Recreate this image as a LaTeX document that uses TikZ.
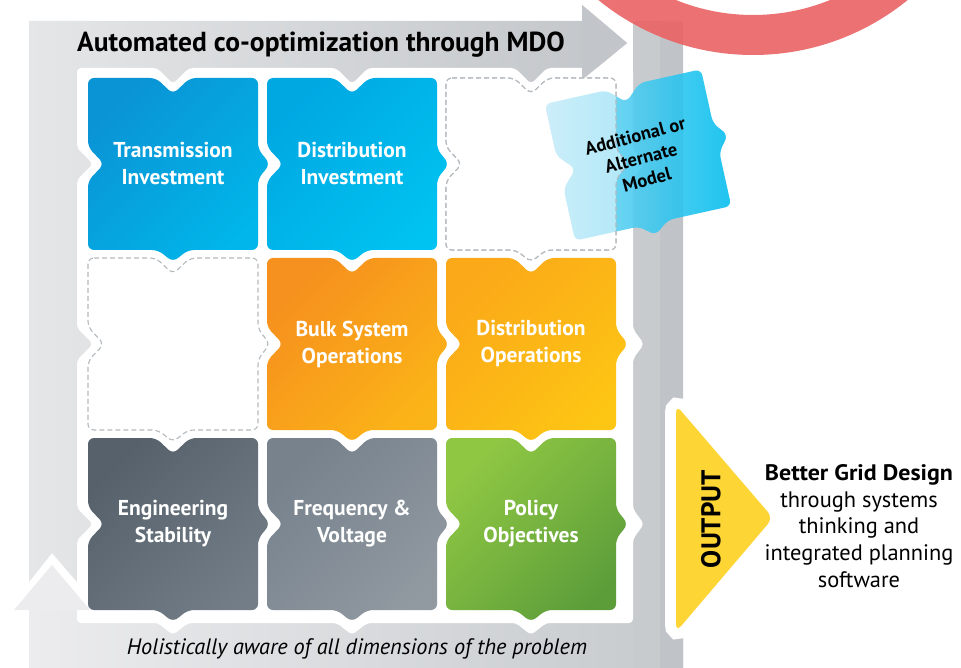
\documentclass[tikz,border=0pt]{standalone}
\usepackage{fontspec}
\setmainfont{PT Sans}
\usetikzlibrary{calc}
\definecolor{blueA}{HTML}{0A94D5}
\definecolor{blueB}{HTML}{00B6EA}
\definecolor{blueC}{HTML}{00A8E2}
\definecolor{blueD}{HTML}{00C3F1}
\definecolor{orA}{HTML}{F6901E}
\definecolor{orB}{HTML}{FBB417}
\definecolor{orC}{HTML}{FBA918}
\definecolor{orD}{HTML}{FDC514}
\definecolor{grA}{HTML}{56616C}
\definecolor{grB}{HTML}{727D88}
\definecolor{grC}{HTML}{77828D}
\definecolor{grD}{HTML}{9199A1}
\definecolor{gnA}{HTML}{8FC743}
\definecolor{gnB}{HTML}{5C9D3A}
\definecolor{yel}{HTML}{FDD535}
\definecolor{ringred}{HTML}{EA6264}
\definecolor{bandL}{HTML}{E4E6E7}
\definecolor{bandR}{HTML}{C2C5C9}
\definecolor{botL}{HTML}{ECECEE}
\definecolor{botR}{HTML}{C6CACD}
\definecolor{rbandA}{HTML}{C7CBCE}
\definecolor{rbandB}{HTML}{C0C4C8}
\definecolor{dashgray}{HTML}{B5BABF}
\definecolor{pieceL}{HTML}{8ED8F3}
\definecolor{pieceR}{HTML}{00BDEE}
\tikzset{
  puzzle/.style n args={4}{insert path={
   ({#1},{#2}) -- ({#1+#3/2-17},{#2}) -- ({#1+#3/2},{#2+16}) -- ({#1+#3/2+17},{#2}) -- ({#1+#3},{#2})
   -- ({#1+#3},{#2+#4/2-15}) -- ({#1+#3+12},{#2+#4/2}) -- ({#1+#3},{#2+#4/2+15}) -- ({#1+#3},{#2+#4})
   -- ({#1+#3/2+15},{#2+#4}) -- ({#1+#3/2},{#2+#4+12}) -- ({#1+#3/2-15},{#2+#4}) -- ({#1},{#2+#4})
   -- ({#1},{#2+#4/2+17}) -- ({#1+16},{#2+#4/2}) -- ({#1},{#2+#4/2-17}) -- cycle}},
  tilebase/.style={rounded corners=6pt},
  tiletext/.style={text=white, align=center, font=\bfseries\fontsize{21.5}{27}\selectfont},
  dashtile/.style={draw=dashgray, line width=1.1pt, dash pattern=on 5pt off 3pt, rounded corners=6pt},
}
\begin{document}
\begin{tikzpicture}[x=1pt,y=-1pt]
\useasboundingbox[fill=white] (0,0) rectangle (961,668);
% top L arrow
\path[left color=bandL, right color=bandR]
  (29,21) -- (582,21) -- (582,5) -- (627,43) -- (582,80) -- (582,95) -- (100,95)
  -- (100,560) -- (77,582) -- (52,553) -- (29,582) -- cycle;
% bottom band with up arrow shaft
\path[left color=botL, right color=botR]
  (29,668) -- (29,600) -- (90,600) -- (90,612) -- (683,612) -- (683,668) -- cycle;
% right band
\fill[rbandA, rounded corners=2pt] (633,21) rectangle (683,680);
\fill[rbandB] (660,23) rectangle (683,680);
% white panel
\fill[white, rounded corners=4pt] (77,68) -- (157,68) -- (173,84) -- (189,68) -- (336,68) -- (352,84) -- (368,68)
  -- (515,68) -- (531,84) -- (547,68) -- (633,68) -- (633,149) -- (644,164) -- (633,179) -- (633,329)
  -- (644,344) -- (633,359) -- (633,509) -- (644,524) -- (633,539) -- (633,623) -- (546,623) -- (531,635)
  -- (516,623) -- (367,623) -- (352,635) -- (337,623) -- (188,623) -- (173,635) -- (158,623) -- (77,623)
  -- (77,540) -- (93,524) -- (77,508) -- (77,360) -- (93,344) -- (77,328) -- (77,180) -- (93,164)
  -- (77,148) -- cycle;
% arrowheads on top of panel
\fill[bandR] (582,5) -- (627,43) -- (582,80) -- cycle;
\fill[botL] (14,610) -- (52,565) -- (90,610) -- cycle;
% tiles
\path[tilebase, top color=blueA, bottom color=blueB, shading angle=45, puzzle={88}{78}{170}{172}];
\path[tilebase, top color=blueC, bottom color=blueD, shading angle=45, puzzle={267}{78}{170}{172}];
\path[dashtile, fill=white, puzzle={446}{78}{170}{172}];
\path[dashtile, fill=white, puzzle={88}{258}{170}{172}];
\path[tilebase, top color=orA, bottom color=orB, shading angle=45, puzzle={267}{258}{170}{172}];
\path[tilebase, top color=orC, bottom color=orD, shading angle=45, puzzle={446}{258}{170}{172}];
\path[tilebase, top color=grA, bottom color=grB, shading angle=45, puzzle={88}{438}{170}{172}];
\path[tilebase, top color=grC, bottom color=grD, shading angle=45, puzzle={267}{438}{170}{172}];
\path[tilebase, top color=gnA, bottom color=gnB, shading angle=45, puzzle={446}{438}{170}{172}];
% additional piece
\begin{scope}[shift={(638,155)}, rotate=12.5]
  \path[tilebase, left color=pieceL, right color=pieceR, opacity=0.88, puzzle={-80}{-70}{160}{140}];
\end{scope}
\path[dashtile, fill=white, fill opacity=0.5, puzzle={446}{78}{170}{172}];
\node[rotate=15, align=center, font=\bfseries\fontsize{18.5}{22.5}\selectfont] (addl) at (641,158) {Additional or\\Alternate\\Model};
% tile labels
\node[tiletext] (trans) at (173,164) {Transmission\\Investment};
\node[tiletext] (distinv) at (352,164) {Distribution\\Investment};
\node[tiletext] (bulk) at (352,344) {Bulk System\\Operations};
\node[tiletext] (distop) at (531,344) {Distribution\\Operations};
\node[tiletext] (eng) at (173,524) {Engineering\\Stability};
\node[tiletext] (freq) at (352,524) {Frequency \&\\Voltage};
\node[tiletext] (policy) at (531,524) {Policy\\Objectives};
% title and bottom text
\node[font=\bfseries\fontsize{27.5}{27.5}\selectfont, anchor=west, inner sep=0pt] (title) at (77,45) {Automated co-optimization through MDO};
\node[font=\itshape\fontsize{22.3}{22.3}\selectfont, inner sep=0pt] (holistic) at (357,649) {Holistically aware of all dimensions of the problem};
% output
\path[draw=white, line width=22pt, rounded corners=8pt] (676,405) -- (773,518) -- (676,632) -- cycle;
\path[fill=yel, rounded corners=8pt] (676,405) -- (773,518) -- (676,632) -- cycle;
\node[rotate=90, font=\bfseries\fontsize{27}{27}\selectfont, inner sep=0pt] (outlbl) at (711,519) {OUTPUT};
\node[align=center, font=\fontsize{22.4}{26.75}\selectfont] (better) at (859,526) {\scalebox{1.07}[1]{\textbf{Better Grid Design}}\\through systems\\thinking and\\integrated planning\\software};
% red ring
\draw[ringred, line width=40pt, opacity=0.9] (753,-190) circle (225);
\end{tikzpicture}
\end{document}
